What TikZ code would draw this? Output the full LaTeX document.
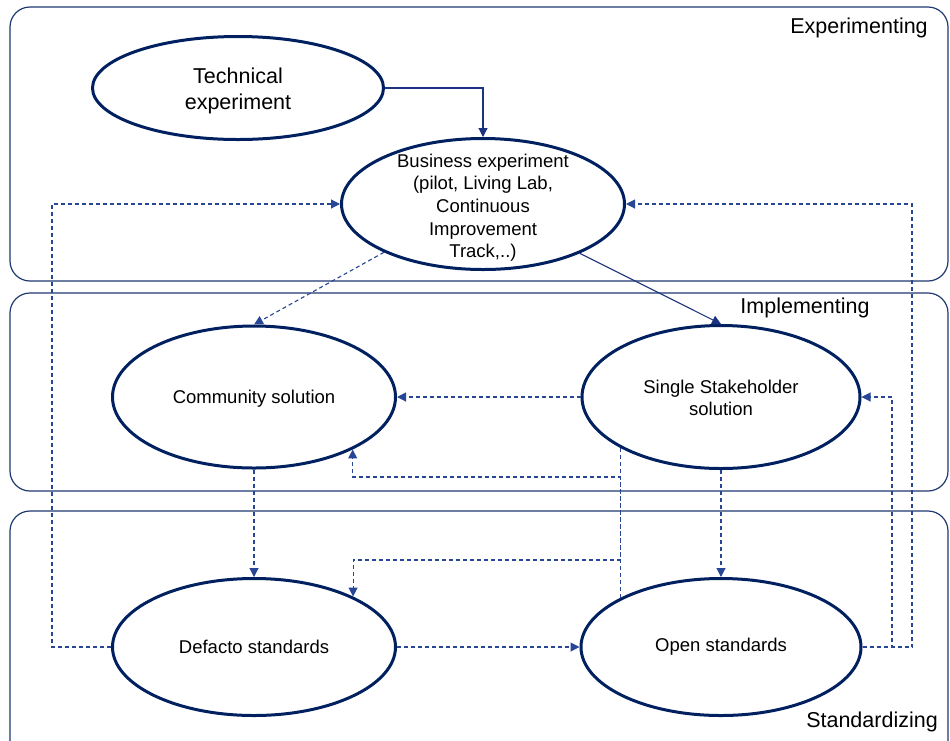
\documentclass[tikz,border=0pt]{standalone}
\usepackage{fontspec}
\setmainfont{Liberation Sans}
\usetikzlibrary{shapes.geometric,arrows.meta}
\definecolor{navy}{RGB}{0,32,96}
\definecolor{lanec}{RGB}{31,56,110}
\definecolor{dashc}{RGB}{40,70,150}
\definecolor{solc}{RGB}{25,50,130}
\begin{document}
\begin{tikzpicture}[x=1pt,y=-1pt,
  blob/.style={ellipse,draw=navy,line width=3pt,inner sep=0pt,align=center,
    font=\fontsize{18.5}{22.7}\selectfont},
  lane/.style={draw=lanec,line width=1.2pt,rounded corners=20pt},
  lanelabel/.style={font=\fontsize{21.5}{25}\selectfont,inner sep=0pt,anchor=base},
  dconn/.style={draw=dashc,line width=1.1pt,dash pattern=on 4pt off 3pt,
    -{Triangle[length=9pt,width=9pt]}},
  sconn/.style={draw=solc,line width=1.1pt,-{Triangle[length=9pt,width=9pt]}}
]
\useasboundingbox (0,0) rectangle (950,740);
\clip (0,0) rectangle (950,740);
% lanes
\draw[lane] (10,7) rectangle (948,281);
\draw[lane] (10,293) rectangle (948,491);
\draw[lane] (10,511) rectangle (948,770);
\node[lanelabel] (lexp) at (859,33.5) {Experimenting};
\node[lanelabel] (limp) at (805,313) {Implementing};
\node[lanelabel] (lstd) at (872,727) {Standardizing};
% ellipses
\node[blob,minimum width=291pt,minimum height=103pt,
  font=\fontsize{21.5}{26}\selectfont] (tech) at (238,88) {\rule{0pt}{21pt}Technical\\experiment};
\node[blob,minimum width=283pt,minimum height=131pt,inner ysep=-22pt] (biz) at (483,204)
  {\rule{0pt}{21pt}Business experiment\\(pilot, Living Lab,\\Continuous\\Improvement\\Track,..)};
\node[blob,minimum width=283pt,minimum height=142pt] (comm) at (254,397) {\rule{0pt}{17pt}Community solution};
\node[blob,minimum width=278pt,minimum height=143pt] (ss) at (721,397) {\rule{0pt}{15pt}Single Stakeholder\\solution};
\node[blob,minimum width=283pt,minimum height=137pt] (def) at (254,647) {Defacto standards};
\node[blob,minimum width=280pt,minimum height=137pt] (open) at (721,647) {Open standards};
% helper coordinates
\coordinate (xl) at (52,0);
\coordinate (xr1) at (892,0);
\coordinate (xr2) at (912,0);
\coordinate (ya) at (0,560);
\coordinate (yb) at (0,477);
% connectors
\draw[sconn] (tech.east) -| (biz.north);
\draw[dconn] (def.west) -- (def.west -| xl) |- (biz.west);
\draw[dconn] (biz.206) -- (comm.north);
\draw[sconn] (biz.333) -- (ss.north);
\draw[dconn] (ss.west) -- (comm.east);
\draw[dconn] (comm.south) -- (def.north);
\draw[dconn] (ss.south) -- (open.north);
\draw[dconn] (def.east) -- (open.west);
\draw[dconn] (ss.207) -- (ss.207 |- ya) -| (def.27);
\draw[dconn] (open.154) -- (open.154 |- yb) -| (comm.332);
\draw[dconn] (open.east) -- (open.east -| xr1) |- (ss.east);
\draw[dconn] (open.east) -- (open.east -| xr2) |- (biz.east);
\end{tikzpicture}
\end{document}
